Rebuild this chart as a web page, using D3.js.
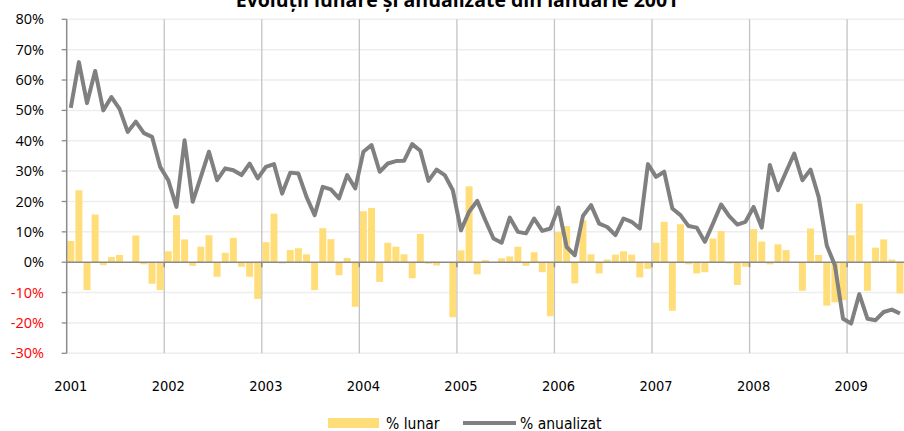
<!DOCTYPE html>
<html lang="ro">
  <head>
    <meta charset="utf-8">
    <script src="https://d3js.org/d3.v7.min.js"></script>
    <style>
      body { margin: 0; background: #fff; }
    </style>
  </head>
  <body>
    <svg width="904" height="431"></svg>
    <script>
      // Data (Jan 2001 - Jul 2009)
      var years = [2001, 2002, 2003, 2004, 2005, 2006, 2007, 2008, 2009];
      var lunar = [
        7.0, 23.7, -9.2, 15.7, -1.0, 1.7, 2.4, 0.0, 8.8, -0.7, -7.1, -9.2,
        3.6, 15.5, 7.5, -1.2, 5.1, 8.9, -4.8, 3.1, 8.0, -1.5, -4.8, -12.1,
        6.6, 16.0, -0.4, 4.0, 4.6, 2.6, -9.2, 11.2, 7.6, -4.3, 1.4, -14.7,
        16.8, 17.9, -6.5, 6.4, 5.1, 2.6, -5.3, 9.3, -0.5, -1.1, 0.0, -18.1,
        3.9, 25.0, -4.0, 0.7, 0.0, 1.3, 1.9, 5.1, -1.2, 3.3, -3.3, -17.8,
        10.0, 11.9, -7.0, 13.8, 2.6, -3.7, 0.9, 2.5, 3.6, 2.5, -5.0, -2.2,
        6.4, 13.3, -16.0, 12.5, -0.7, -3.7, -3.3, 7.8, 10.3, -0.4, -7.5, -1.5,
        10.9, 6.8, -0.7, 5.9, 4.0, -0.2, -9.4, 11.1, 2.4, -14.3, -13.2, -12.5,
        8.9, 19.3, -9.4, 4.8, 7.5, 0.9, -10.3
      ];
      var anualizat = [
        50.8, 65.9, 52.4, 63.0, 50.0, 54.4, 50.5, 42.9, 46.3, 42.5, 41.3, 31.4,
        27.0, 18.2, 40.2, 19.9, 28.1, 36.4, 27.0, 30.9, 30.3, 28.7, 32.5, 27.6,
        31.4, 32.3, 22.6, 29.5, 29.2, 21.5, 15.5, 24.8, 24.0, 21.0, 28.7, 24.3,
        36.4, 38.6, 29.8, 32.5, 33.3, 33.4, 38.9, 36.7, 26.8, 30.5, 28.7, 23.7,
        10.5, 16.6, 20.2, 13.8, 7.8, 6.4, 14.7, 10.0, 9.5, 14.4, 10.3, 11.1,
        18.0, 5.0, 2.3, 15.2, 18.8, 12.7, 11.6, 8.9, 14.4, 13.3, 11.1, 32.3,
        28.1, 29.8, 17.7, 15.5, 11.9, 11.4, 6.7, 12.7, 19.0, 15.2, 12.4, 13.3,
        18.2, 11.4, 32.0, 23.7, 29.8, 35.8, 27.0, 30.5, 21.5, 5.5, -1.0, -18.6,
        -20.2, -10.5, -18.6, -19.1, -16.4, -15.6, -16.9
      ];
      var yTicks = [-30, -20, -10, 0, 10, 20, 30, 40, 50, 60, 70, 80];
      var seriesNames = ["% lunar", "% anualizat"];
      var title = "Evoluţii lunare şi anualizate din ianuarie 2001";

      // month keys, e.g. "2001-1"
      var months = [];
      years.forEach(function(yr) {
        for (var m = 1; m <= 12; m++) months.push(yr + "-" + m);
      });
      months = months.slice(0, lunar.length);

      var svg = d3.select("svg");
      var plotLeft = 66.7, plotRight = 904, plotTop = 19.3, plotBottom = 353.3;

      var x = d3.scaleBand()
        .domain(months)
        .range([plotLeft, plotRight])
        .paddingInner(0.14)
        .paddingOuter(0.07);
      var y = d3.scaleLinear()
        .domain([-30, 80])
        .range([plotBottom, plotTop]);

      var gap = x.step() * x.paddingInner() / 2;
      var yearStarts = years.map(function(yr) { return months.indexOf(yr + "-1"); });
      var narrow = "'Liberation Sans Narrow', 'DejaVu Sans Condensed', sans-serif";

      // horizontal gridlines
      svg.append("g")
        .selectAll("line")
        .data(yTicks.filter(function(t) { return t != 0; }))
        .enter().append("line")
          .attr("x1", plotLeft).attr("x2", plotRight)
          .attr("y1", function(d) { return y(d); })
          .attr("y2", function(d) { return y(d); })
          .style("stroke", "#eeeeee")
          .style("stroke-width", 1.5);

      // year gridlines
      svg.append("g")
        .selectAll("line")
        .data(yearStarts.slice(1))
        .enter().append("line")
          .attr("x1", function(d) { return x(months[d]) - gap; })
          .attr("x2", function(d) { return x(months[d]) - gap; })
          .attr("y1", plotTop).attr("y2", plotBottom)
          .style("stroke", "#c3c3c3")
          .style("stroke-width", 1.3);

      // bars
      svg.append("g")
        .selectAll("rect")
        .data(lunar)
        .enter().append("rect")
          .attr("x", function(d, i) { return x(months[i]); })
          .attr("width", x.bandwidth())
          .attr("y", function(d) { return y(Math.max(0, d)); })
          .attr("height", function(d) { return Math.abs(y(d) - y(0)); })
          .style("fill", "#ffde7a");

      // zero line and y axis line
      svg.append("line")
        .attr("x1", plotLeft).attr("x2", plotRight)
        .attr("y1", y(0)).attr("y2", y(0))
        .style("stroke", "#8a8a8a")
        .style("stroke-width", 1.5);
      svg.append("line")
        .attr("x1", plotLeft).attr("x2", plotLeft)
        .attr("y1", plotTop).attr("y2", plotBottom)
        .style("stroke", "#8a8a8a")
        .style("stroke-width", 1.5);

      // small ticks
      svg.append("g")
        .selectAll("line")
        .data(yTicks)
        .enter().append("line")
          .attr("x1", plotLeft - 5).attr("x2", plotLeft)
          .attr("y1", function(d) { return y(d); })
          .attr("y2", function(d) { return y(d); })
          .style("stroke", "#8a8a8a")
          .style("stroke-width", 1.3);
      svg.append("g")
        .selectAll("line")
        .data(yearStarts.slice(1))
        .enter().append("line")
          .attr("x1", function(d) { return x(months[d]) - gap; })
          .attr("x2", function(d) { return x(months[d]) - gap; })
          .attr("y1", y(0)).attr("y2", y(0) + 5)
          .style("stroke", "#8a8a8a")
          .style("stroke-width", 1.5);

      // annualised line
      var line = d3.line()
        .x(function(d, i) { return x(months[i]) + x.bandwidth() / 2; })
        .y(function(d) { return y(d); });
      svg.append("path")
        .datum(anualizat)
        .attr("d", line)
        .style("fill", "none")
        .style("stroke", "#808080")
        .style("stroke-width", 4)
        .style("stroke-linejoin", "round");

      // y labels
      svg.append("g")
        .selectAll("text")
        .data(yTicks)
        .enter().append("text")
          .attr("x", 44)
          .attr("y", function(d) { return y(d); })
          .attr("dy", "0.35em")
          .attr("text-anchor", "end")
          .style("font-family", "'Open Sans', sans-serif")
          .style("font-size", "14.5px")
          .style("fill", function(d) { return d < 0 ? "#ff0000" : "#000"; })
          .text(function(d) { return d + "%"; });

      // year labels
      svg.append("g")
        .selectAll("text")
        .data(years)
        .enter().append("text")
          .attr("x", function(d, i) { return x(months[yearStarts[i]]) + x.bandwidth() / 2; })
          .attr("y", 391)
          .attr("text-anchor", "middle")
          .style("font-family", narrow)
          .style("font-size", "14.5px")
          .text(function(d) { return d; });

      // title (cut at the top edge)
      svg.append("text")
        .attr("x", 457)
        .attr("y", 7)
        .attr("text-anchor", "middle")
        .style("font-family", "'Open Sans', sans-serif")
        .style("font-weight", "bold")
        .style("font-size", "19.5px")
        .text(title);

      // legend
      var lg = svg.append("g")
        .style("font-family", narrow)
        .style("font-size", "15.5px");
      lg.append("rect")
        .attr("x", 328).attr("y", 418)
        .attr("width", 51).attr("height", 10)
        .style("fill", "#ffde7a");
      lg.append("text").attr("x", 386).attr("y", 428.5).text(seriesNames[0]);
      lg.append("line")
        .attr("x1", 463).attr("x2", 516)
        .attr("y1", 423).attr("y2", 423)
        .style("stroke", "#808080")
        .style("stroke-width", 4);
      lg.append("text").attr("x", 520).attr("y", 428.5).text(seriesNames[1]);
    </script>
  </body>
</html>
